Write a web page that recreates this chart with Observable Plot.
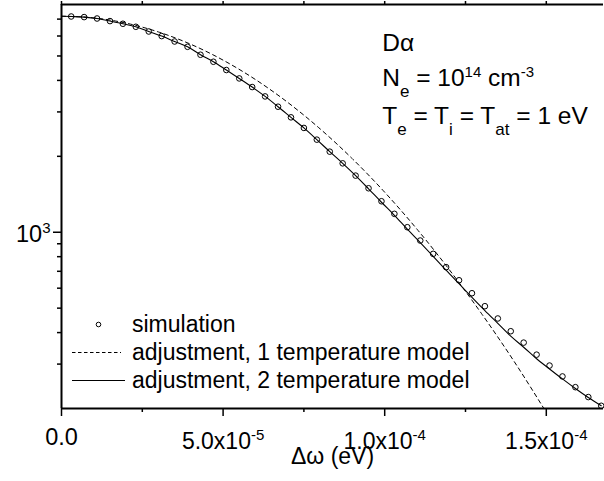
<!DOCTYPE html>
<html><head><meta charset="utf-8">
<script src="https://cdn.jsdelivr.net/npm/d3@7"></script>
<script src="https://cdn.jsdelivr.net/npm/@observablehq/plot@0.6"></script>
<style>
html,body{margin:0;padding:0;background:#fff;}
#chart svg{display:block;}
</style></head><body><div id="chart"></div>
<script>
// ---- data ----
const simX = [3e-6, 7e-6, 11e-6, 15e-6, 19e-6, 23e-6, 27e-6, 31e-6, 35e-6, 39e-6,
  43e-6, 47e-6, 51e-6, 55e-6, 59e-6, 63e-6, 67e-6, 71e-6, 75e-6, 79e-6,
  83e-6, 87e-6, 91e-6, 95e-6, 99e-6, 103e-6, 107e-6, 111e-6, 115e-6, 119e-6,
  123e-6, 127e-6, 131e-6, 135e-6, 139e-6, 143e-6, 147e-6, 151e-6, 155e-6, 159e-6,
  163e-6, 167e-6];
const simY = [7170, 7131, 7040, 6876, 6709, 6527, 6252, 5996, 5706, 5437,
  5056, 4743, 4398, 4073, 3765, 3456, 3146, 2855, 2592, 2329,
  2087, 1876, 1677, 1494, 1327, 1183, 1047, 927, 821, 727,
  645, 573, 509, 455, 405, 365, 327, 296, 268, 243,
  222, 205];

const twoTempX = [0, 3e-6, 7e-6, 11e-6, 15e-6, 19e-6, 23e-6, 27e-6, 31e-6, 35e-6, 39e-6,
  43e-6, 47e-6, 51e-6, 55e-6, 59e-6, 63e-6, 67e-6, 71e-6, 75e-6, 79e-6,
  83e-6, 87e-6, 91e-6, 95e-6, 99e-6, 103e-6, 107e-6, 111e-6, 115e-6, 119e-6,
  123e-6, 127e-6, 131e-6, 135e-6, 139e-6, 143e-6, 147e-6, 151e-6, 155e-6, 159e-6,
  163e-6, 167e-6];
const twoTempY = [7190, 7170, 7131, 7040, 6876, 6709, 6527, 6252, 5996, 5706, 5437,
  5056, 4743, 4398, 4073, 3765, 3456, 3146, 2855, 2592, 2329,
  2087, 1876, 1677, 1487, 1315, 1167, 1028, 910, 803, 707,
  625, 552, 489, 435, 387, 350, 315, 287, 262, 240,
  221, 205];

const oneTempX = [0, 1e-5, 2e-5, 3e-5, 4e-5, 5e-5, 6e-5, 7e-5, 8e-5, 9e-5,
  1e-4, 1.1e-4, 1.2e-4, 1.3e-4, 1.4e-4, 1.5e-4];
const oneTempY = [7190, 7081, 6748, 6225, 5564, 4813, 4033, 3272, 2571, 1956,
  1441, 1028, 710, 475, 308, 193];

const xMajorTicks = [0, 5e-5, 1e-4, 1.5e-4];
const xMinorTicks = [2.5e-5, 7.5e-5, 1.25e-4];
const xTickLabels = ["0.0", "5.0x10^{-5}", "1.0x10^{-4}", "1.5x10^{-4}"];
const yMajorTicks = [1000];
const yMinorTicks = [300, 400, 500, 600, 700, 800, 900, 2000, 3000, 4000, 5000, 6000, 7000];
const yTickLabels = ["10^{3}"];

const xTitle = "Δω (eV)";
const annotations = ["Dα", "N_{e} = 10^{14} cm^{-3}", "T_{e} = T_{i} = T_{at} = 1 eV"];
const legendLabels = ["simulation", "adjustment, 1 temperature model", "adjustment, 2 temperature model"];

// ---- build ----
const FONT = "'Liberation Sans', Arial, sans-serif";
const zip = (xs, ys) => xs.map((x, i) => ({x, y: ys[i]}));
const sim = zip(simX, simY);
const two = zip(twoTempX, twoTempY);
const one = zip(oneTempX, oneTempY);
const blank = () => "";

const annotDy = [46, 81, 119];

const svg = Plot.plot({
  width: 604, height: 481,
  marginLeft: 61, marginRight: 1, marginTop: 4, marginBottom: 73,
  style: {fontFamily: FONT, color: "#000", background: "#fff", overflow: "visible"},
  x: {type: "linear", domain: [0, 1.677e-4], axis: null},
  y: {type: "log", domain: [200, 8000], axis: null},
  marks: [
    Plot.line(one, {x: "x", y: "y", stroke: "#000", strokeWidth: 1, strokeDasharray: "4,3.5", curve: "monotone-x", clip: true}),
    Plot.line(two, {x: "x", y: "y", stroke: "#000", strokeWidth: 1.1, curve: "monotone-x", clip: true}),
    Plot.dot(sim, {x: "x", y: "y", r: 2.8, stroke: "#000", strokeWidth: 1, fill: "none"}),
    Plot.axisX(xMajorTicks, {anchor: "bottom", tickSize: 8, tickFormat: blank, label: null, strokeWidth: 1.5}),
    Plot.axisX(xMinorTicks, {anchor: "bottom", tickSize: 4, tickFormat: blank, label: null, strokeWidth: 1.5}),
    Plot.axisX(xMajorTicks.concat(xMinorTicks), {anchor: "top", tickSize: 4, tickFormat: blank, label: null, strokeWidth: 1.5}),
    Plot.axisY(yMajorTicks, {anchor: "left", tickSize: 8, tickFormat: blank, label: null, strokeWidth: 1.5}),
    Plot.axisY(yMinorTicks, {anchor: "left", tickSize: 4, tickFormat: blank, label: null, strokeWidth: 1.5}),
    Plot.ruleX([0], {stroke: "#000", strokeWidth: 2}),
    Plot.ruleY([200], {stroke: "#000", strokeWidth: 2}),
    Plot.ruleY([8000], {stroke: "#000", strokeWidth: 2}),
    Plot.text(xMajorTicks, {x: d => d, text: (d, i) => xTickLabels[i], filter: (d, i) => !xTickLabels[i].includes("^"),
      frameAnchor: "bottom", lineAnchor: "bottom", dy: 36, fontSize: 23.5, fill: "#000"}),
    Plot.text(xMajorTicks, {x: d => d, text: (d, i) => xTickLabels[i], filter: (d, i) => xTickLabels[i].includes("^"),
      frameAnchor: "bottom", lineAnchor: "bottom", dy: 40, fontSize: 23, fill: "#000"}),
    Plot.text(yMajorTicks, {y: d => d, text: (d, i) => yTickLabels[i], frameAnchor: "left", textAnchor: "end",
      lineAnchor: "bottom", dx: -11, dy: 10, fontSize: 23.5, fill: "#000"}),
    Plot.text([xTitle], {text: d => d, frameAnchor: "bottom", lineAnchor: "bottom", dy: 55, fontSize: 23, fill: "#000"}),
    ...annotations.map((a, i) => Plot.text([a], {text: d => d, frameAnchor: "top-left", textAnchor: "start",
      lineAnchor: "bottom", dx: 320.7, dy: annotDy[i], fontSize: 24.5, fill: "#000"}))
  ]
});

// superscript / subscript rendering
const SVGNS = "http://www.w3.org/2000/svg";
function richify(root) {
  root.querySelectorAll("text").forEach(t => {
    const s = t.textContent;
    if (!/[\^_]\{/.test(s)) return;
    const parts = [];
    const re = /([\^_])\{([^}]*)\}/g;
    let last = 0, m;
    while ((m = re.exec(s))) {
      if (m.index > last) parts.push({k: "n", s: s.slice(last, m.index)});
      parts.push({k: m[1] === "^" ? "sup" : "sub", s: m[2]});
      last = re.lastIndex;
    }
    if (last < s.length) parts.push({k: "n", s: s.slice(last)});
    t.textContent = "";
    let shift = 0;
    for (const p of parts) {
      const ts = document.createElementNS(SVGNS, "tspan");
      const target = p.k === "sup" ? -9 : p.k === "sub" ? 11 : 0;
      if (target !== shift) ts.setAttribute("dy", target - shift);
      shift = target;
      if (p.k === "sup") ts.setAttribute("font-size", 15);
      if (p.k === "sub") ts.setAttribute("font-size", 17);
      ts.textContent = p.s;
      t.appendChild(ts);
    }
  });
}
richify(svg);

// legend
const lg = d3.select(svg).append("g").attr("font-family", FONT).attr("font-size", 23)
  .attr("fill", "#000").attr("text-anchor", "start");
const legendRows = [
  {base: 332, kind: "dot"},
  {base: 360, kind: "dash"},
  {base: 388, kind: "solid"}
];
legendRows.forEach((r, i) => {
  const cy = r.base - 7.5;
  if (r.kind === "dot") {
    lg.append("circle").attr("cx", 98.5).attr("cy", cy).attr("r", 2.3).attr("fill", "none").attr("stroke", "#000").attr("stroke-width", 1);
  } else {
    lg.append("line").attr("x1", 72).attr("x2", r.kind === "dash" ? 121 : 125).attr("y1", cy).attr("y2", cy)
      .attr("stroke", "#000").attr("stroke-width", 1)
      .attr("stroke-dasharray", r.kind === "dash" ? "3.5,2.5" : null);
  }
  lg.append("text").attr("x", 132).attr("y", r.base).text(legendLabels[i]);
});

document.getElementById("chart").appendChild(svg);
</script>
</body></html>
